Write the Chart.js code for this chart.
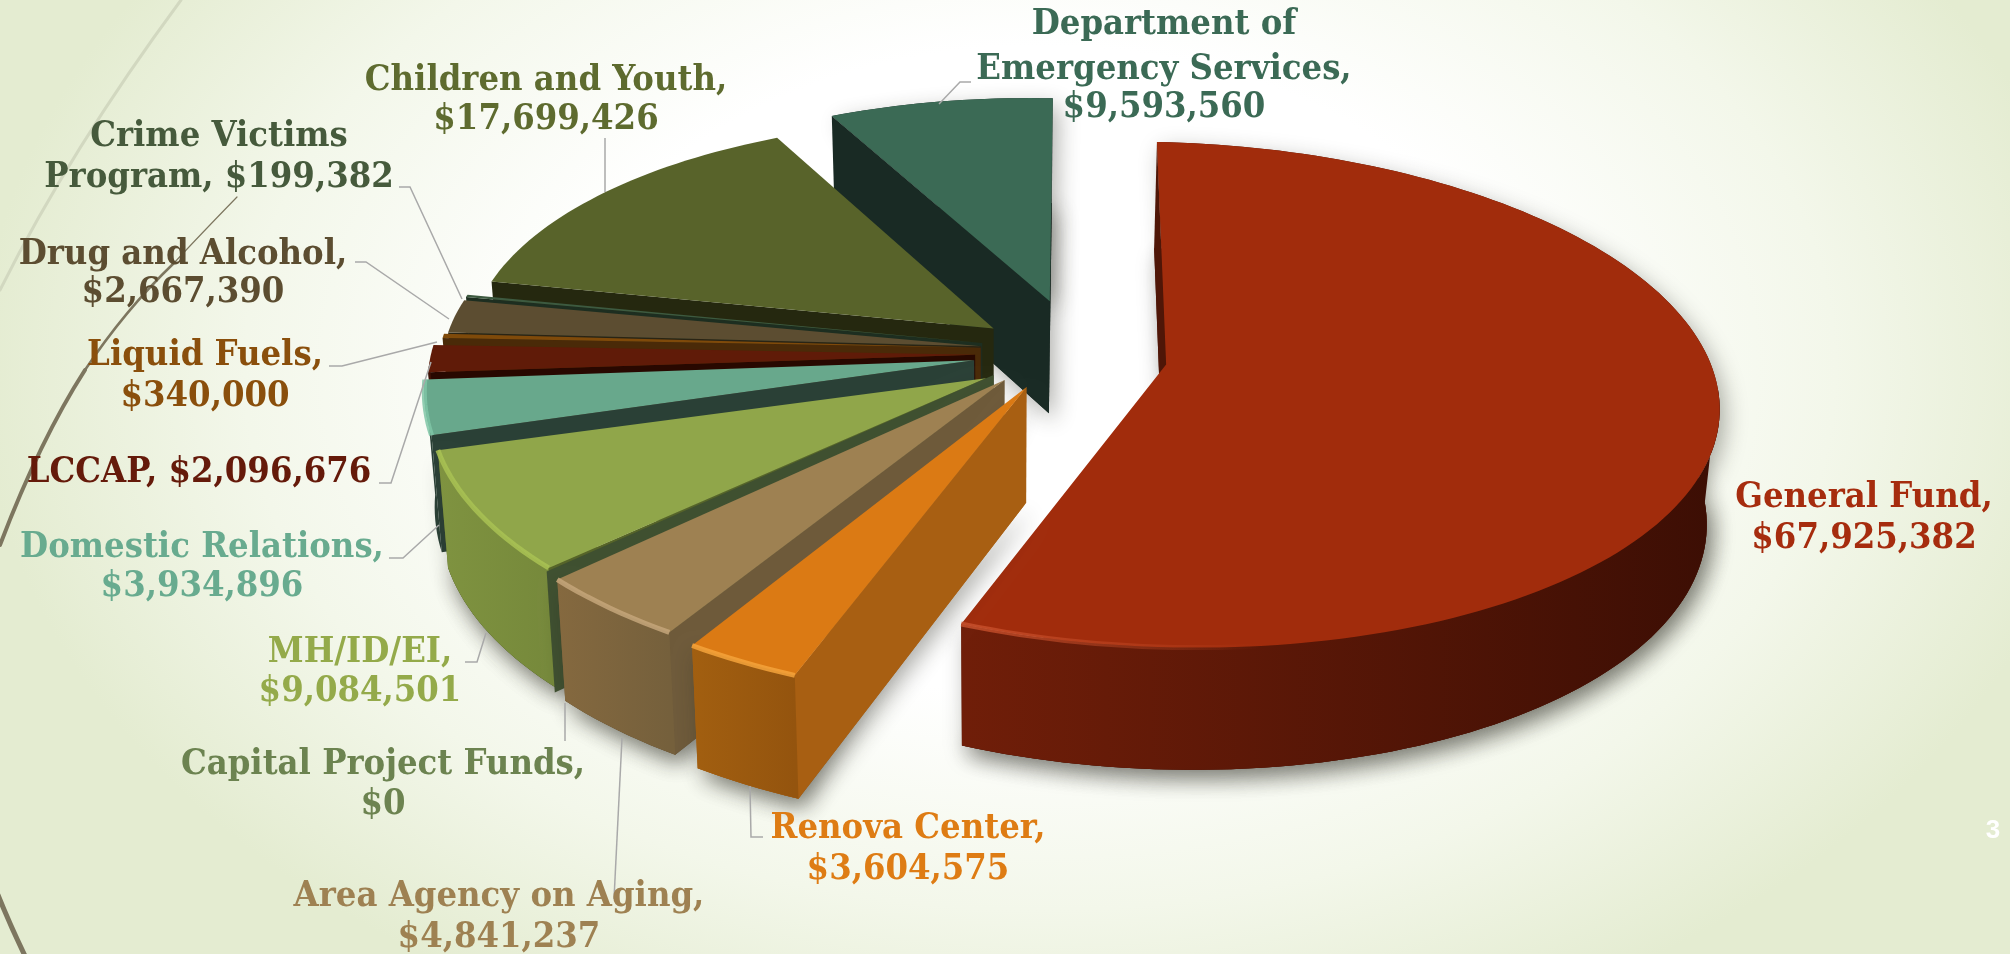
<!DOCTYPE html>
<html>
<head>
<meta charset="utf-8">
<title>Revenue by fund</title>
<script src="https://cdn.jsdelivr.net/npm/chart.js@4/dist/chart.umd.min.js"></script>
<style>
  html, body { margin: 0; padding: 0; overflow: hidden; }
  body { width: 2010px; height: 954px; background: radial-gradient(ellipse 1060px 720px at 1040px 370px, #ffffff 0%, #ffffff 45%, #f3f7ea 75%, #e4ecd1 100%); }
  canvas { display: block; }
</style>
</head>
<body>
<canvas id="budgetPie" width="2010" height="954"></canvas>
<script>
// clockwise from 12 o'clock
const categories = ['General Fund', 'Renova Center', 'Area Agency on Aging', 'Capital Project Funds', 'MH/ID/EI',
  'Domestic Relations', 'LCCAP', 'Liquid Fuels', 'Drug and Alcohol', 'Crime Victims Program', 'Children and Youth',
  'Department of Emergency Services'];
const amounts = [67925382, 3604575, 4841237, 0, 9084501, 3934896, 2096676, 340000, 2667390, 199382, 17699426, 9593560];

// ── slice colours
const topColors  = ['#a12c0c', '#db7a14', '#9e8152', '#3f5030', '#90a64a', '#68a88c', '#601b08', '#7f4a0a', '#5c4d31', '#3d5a40', '#58632a', '#3b6a55'];
const cutColors  = ['#4f1607', '#a85f12', '#6e5a3a', '#3f5030', '#566429', '#2a4036', '#280800', '#4a2a08', '#2a2414', '#1d2e20', '#25280f', '#192a24'];
const rimLeft    = ['#701e09', '#a25f10', '#85693f', '#3f5030', '#7f9340', '#2a4036', '#3d1004', '#4a2a08', '#2a2414', '#1d2e20', '#25280f', '#192a24'];
const rimRight   = ['#3c0e04', '#94540e', '#75603c', '#3f5030', '#76893b', '#2a4036', '#3d1004', '#4a2a08', '#2a2414', '#1d2e20', '#25280f', '#192a24'];
const rimShine   = ['#c9502c', '#f5a33b', '#c4a67a', null, '#a9c253', '#7fc6a6', null, null, null, null, null, null];
const labelColors = ['#a62c0e', '#de7c14', '#9e8152', '#6c8350', '#94aa4a', '#68ab8f', '#651a0a', '#8a4f0c', '#5c4d31', '#465a3c', '#5e6b2f', '#3b6a55'];

// explode distance in % of radius, small vertical correction and radius factors per slice
const sliceOffsets = [15.8, 21.7, 21.6, 21.6, 19.7, 19.5, 19, 18, 18, 18, 19.5, 23];
const sliceNudge   = [0, -18, -18, -18, -2, -4, -2, -6, -4, -4, 2, 0];
const sliceScale   = [0.99, 1, 1, 1, 0.985, 0.98, 0.98, 0.975, 0.97, 0.97, 0.955, 0.95];
const sliceScaleV  = [0.99, 1.045, 1.03, 1.02, 1, 1.05, 1, 0.975, 0.97, 0.97, 0.955, 0.95];
const drawOrder    = [0, 11, 10, 9, 8, 7, 6, 5, 4, 3, 2, 1];
const shadowed     = [0, 11, 4, 2, 1];

// ── fake 3D camera
const CX = 1080, CY = 356, SX = 552, SY = 250, PERSP = 0.12, SHEAR = 10;
const CONVERGE = 0.018;

function topPoint(u, v, nudge) {
  const w = 1 - PERSP * v;
  return { x: CX + SX * u / w, y: CY + SY * v / w + SHEAR * u + nudge };
}
function basePoint(u, v, nudge) {
  const p = topPoint(u, v, nudge);
  return { x: 1000 + (p.x - 1000) * (1 - CONVERGE), y: p.y + 114 + 8 * v };
}
function tracePoly(ctx, pts) {
  ctx.beginPath();
  pts.forEach((p, i) => i ? ctx.lineTo(p.x, p.y) : ctx.moveTo(p.x, p.y));
  ctx.closePath();
}
function turn(a, b, c) {
  return (b.x - a.x) * (c.y - b.y) - (b.y - a.y) * (c.x - b.x);
}

function drawSlice(ctx, el, i) {
  const off = (el.options.offset || 0) / 100;
  const mid = (el.startAngle + el.endAngle) / 2;
  const ou = Math.cos(mid) * off, ov = Math.sin(mid) * off;
  const nudge = sliceNudge[i];
  const rimAt = a => [ou + sliceScale[i] * Math.cos(a), ov + sliceScaleV[i] * Math.sin(a)];
  const steps = Math.max(2, Math.ceil((el.endAngle - el.startAngle) * 40));

  const rimTop = [];
  for (let k = 0; k <= steps; k++) {
    const a = el.startAngle + (el.endAngle - el.startAngle) * k / steps;
    const [u, v] = rimAt(a);
    rimTop.push({ a, t: topPoint(u, v, nudge), b: basePoint(u, v, nudge) });
  }
  const apexT = topPoint(ou, ov, nudge), apexB = basePoint(ou, ov, nudge);
  const first = rimTop[0], last = rimTop[rimTop.length - 1];
  const front = rimTop.filter(p => Math.sin(p.a) > 0.05);

  // soft shadow under the whole block
  if (shadowed.includes(i)) {
    ctx.save();
    ctx.shadowColor = 'rgba(40,40,30,0.38)';
    ctx.shadowBlur = 22;
    ctx.shadowOffsetX = 5;
    ctx.shadowOffsetY = 8;
    ctx.fillStyle = cutColors[i];
    const outline = [apexT, ...rimTop.map(p => p.t)];
    if (front.length) outline.push(...[...front].reverse().map(p => p.b));
    tracePoly(ctx, [apexB, ...rimTop.map(p => p.b)]);
    ctx.fill();
    tracePoly(ctx, outline);
    ctx.fill();
    ctx.restore();
  }

  // cut faces, only when they look at the camera
  if (turn(apexT, first.t, first.b) < 0) {
    ctx.fillStyle = cutColors[i];
    tracePoly(ctx, [apexT, first.t, first.b, apexB]);
    ctx.fill();
  }
  if (turn(apexT, last.t, last.b) > 0) {
    ctx.fillStyle = cutColors[i];
    tracePoly(ctx, [apexT, last.t, last.b, apexB]);
    ctx.fill();
  }

  // outer wall
  if (front.length > 1) {
    const xs = front.map(p => p.t.x);
    const grad = ctx.createLinearGradient(Math.min(...xs), 0, Math.max(...xs), 0);
    grad.addColorStop(0, rimLeft[i]);
    grad.addColorStop(1, rimRight[i]);
    ctx.fillStyle = grad;
    tracePoly(ctx, [...front.map(p => p.t), ...[...front].reverse().map(p => p.b)]);
    ctx.fill();
  }

  // top face
  ctx.fillStyle = el.options.backgroundColor;
  tracePoly(ctx, [apexT, ...rimTop.map(p => p.t)]);
  ctx.fill();

  // bevel highlight along the front edge of the top
  if (rimShine[i] && front.length > 1) {
    ctx.save();
    ctx.strokeStyle = rimShine[i];
    ctx.lineWidth = 5;
    ctx.globalAlpha = 0.85;
    if (i === 0) {
      const g = ctx.createLinearGradient(960, 0, 1260, 0);
      g.addColorStop(0, rimShine[i]);
      g.addColorStop(1, 'rgba(201,80,44,0)');
      ctx.strokeStyle = g;
    }
    ctx.beginPath();
    front.forEach((p, k) => k ? ctx.lineTo(p.t.x, p.t.y) : ctx.moveTo(p.t.x, p.t.y));
    ctx.stroke();
    ctx.restore();
  }
}

// ── decoration behind the chart
function drawBackdrop(ctx) {
  ctx.save();
  ctx.lineCap = 'round';
  ctx.strokeStyle = '#d2d8c0';
  ctx.lineWidth = 3;
  ctx.beginPath();
  ctx.moveTo(181, 0);
  ctx.quadraticCurveTo(70, 150, 0, 290);
  ctx.stroke();

  ctx.strokeStyle = '#7d765f';
  ctx.lineWidth = 1.2;
  ctx.beginPath();
  ctx.moveTo(237, 197);
  ctx.quadraticCurveTo(200, 235, 174, 263);
  ctx.stroke();
  ctx.lineWidth = 2.5;
  ctx.beginPath();
  ctx.moveTo(174, 263);
  ctx.quadraticCurveTo(125, 310, 85, 370);
  ctx.stroke();
  ctx.lineWidth = 4;
  ctx.beginPath();
  ctx.moveTo(85, 370);
  ctx.quadraticCurveTo(40, 440, 0, 545);
  ctx.stroke();
  ctx.lineWidth = 5;
  ctx.beginPath();
  ctx.moveTo(-2, 895);
  ctx.quadraticCurveTo(10, 925, 26, 958);
  ctx.stroke();
  ctx.restore();
}

// ── leader lines
const leaders = [
  [],
  [[750, 786], [751, 837], [763, 837]],
  [[622, 738], [614, 899]],
  [[565, 703], [565, 741]],
  [[486, 633], [477, 662], [465, 662]],
  [[439, 525], [403, 558], [389, 558]],
  [[431, 362], [391, 483], [379, 483]],
  [[437, 342], [342, 366], [329, 366]],
  [[449, 319], [366, 262], [355, 262]],
  [[462, 299], [410, 187], [399, 187]],
  [[605, 192], [605, 138]],
  [[939, 104], [960, 82], [971, 82]]
];
const labelCentres = [1864, 908, 499, 383, 360, 202, 199, 205, 183, 219, 546, 1164];
const labelRows = [[498, 539], [829, 870], [897, 938], [765, 805], [653, 692], [548, 587], [473], [356, 397], [255, 293], [137, 178], [81, 120], [25, 70, 108]];
// how many words go on each line of a label
const labelWraps = [[2, 1], [2, 1], [4, 1], [3, 1], [1, 1], [2, 1], [2], [2, 1], [3, 1], [2, 2], [3, 1], [2, 2, 1]];

const money = v => '$' + v.toLocaleString('en-US');

function drawLabels(ctx) {
  ctx.save();
  ctx.strokeStyle = '#a9a9a9';
  ctx.lineWidth = 1.5;
  leaders.forEach(pts => {
    ctx.beginPath();
    pts.forEach((p, k) => k ? ctx.lineTo(p[0], p[1]) : ctx.moveTo(p[0], p[1]));
    ctx.stroke();
  });

  ctx.textAlign = 'center';
  ctx.textBaseline = 'middle';
  ctx.font = 'bold 36px "DejaVu Serif Condensed", "DejaVu Serif"';
  categories.forEach((name, i) => {
    const words = `${name}, ${money(amounts[i])}`.split(' ');
    let w = 0;
    labelWraps[i].forEach((count, row) => {
      ctx.fillStyle = labelColors[i];
      ctx.fillText(words.slice(w, w + count).join(' '), labelCentres[i], labelRows[i][row]);
      w += count;
    });
  });

  ctx.fillStyle = '#ffffff';
  ctx.font = 'bold 26px "Liberation Sans"';
  ctx.fillText('3', 1993, 831);
  ctx.restore();
}

const pie3d = {
  id: 'pie3d',
  beforeDatasetsDraw(chart) {
    drawBackdrop(chart.ctx);
  },
  beforeDatasetDraw(chart, args) {
    const arcs = args.meta.data;
    drawOrder.forEach(i => drawSlice(chart.ctx, arcs[i], i));
    return false;
  },
  afterDatasetsDraw(chart) {
    drawLabels(chart.ctx);
  }
};

new Chart(document.getElementById('budgetPie'), {
  type: 'pie',
  data: {
    labels: categories,
    datasets: [{
      data: amounts,
      backgroundColor: topColors,
      offset: sliceOffsets,
      borderWidth: 0
    }]
  },
  options: {
    responsive: false,
    animation: false,
    rotation: 0,
    plugins: {
      legend: { display: false },
      tooltip: { enabled: false }
    }
  },
  plugins: [pie3d]
});
</script>
</body>
</html>
